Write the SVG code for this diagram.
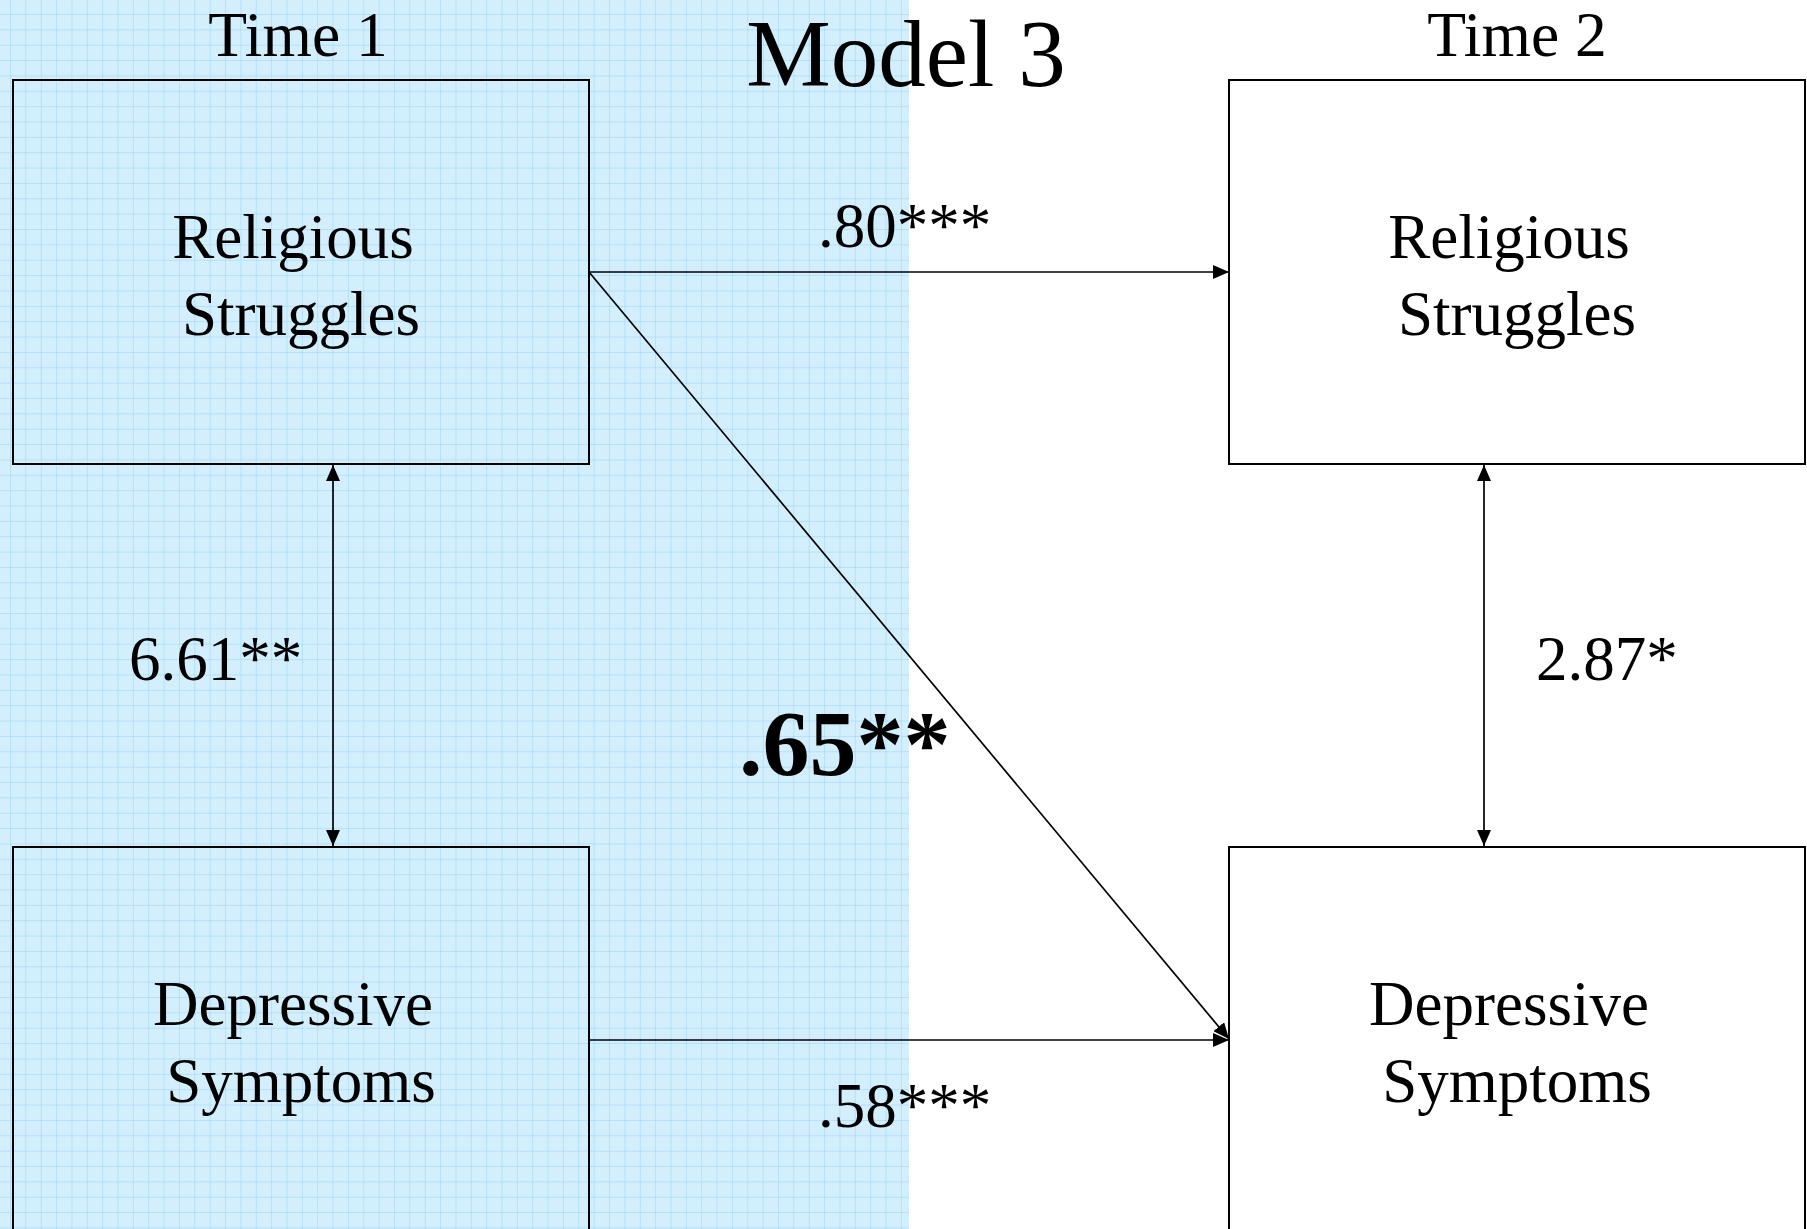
<svg xmlns="http://www.w3.org/2000/svg" width="1807" height="1229" viewBox="0 0 1807 1229">
  <style>
    .t { font-family: "Liberation Serif", "Times New Roman", serif; fill: #000; }
    .lbl { font-size: 63px; text-anchor: middle; }
    .box { fill: none; stroke: #000; stroke-width: 2; }
    .con { stroke: #000; stroke-width: 1.7; fill: none; }
  </style>
  <defs>
    <pattern id="grid" patternUnits="userSpaceOnUse" x="10" y="14" width="15.36" height="15.36">
      <rect x="-0.6" y="0" width="1.2" height="15.36" fill="#a0d7f6"/>
      <rect x="0" y="-0.6" width="15.36" height="1.2" fill="#a0d7f6"/>
    </pattern>
    <marker id="ah" viewBox="0 0 16 14" markerUnits="userSpaceOnUse" markerWidth="16" markerHeight="14" refX="16" refY="7" orient="auto-start-reverse">
      <path d="M0,0 L16,7 L0,14 z" fill="#000"/>
    </marker>
  </defs>

  <rect x="0" y="0" width="1807" height="1229" fill="#ffffff"/>
  <g id="background">
    <rect x="0" y="0" width="909" height="1229" fill="#d3effe"/>
    <rect x="0" y="0" width="909" height="1229" fill="url(#grid)"/>
  </g>

  <g id="titles">
    <text class="t" x="906" y="86" font-size="95" text-anchor="middle">Model 3</text>
    <text class="t" x="298" y="56" font-size="63.5" text-anchor="middle">Time 1</text>
    <text class="t" x="1517" y="56" font-size="63.5" text-anchor="middle">Time 2</text>
  </g>

  <g id="connectors">
    <line class="con" x1="589" y1="272" x2="1229" y2="272" marker-end="url(#ah)"/>
    <line class="con" x1="589" y1="1040" x2="1229" y2="1040" marker-end="url(#ah)"/>
    <line class="con" x1="589" y1="272" x2="1229" y2="1039" marker-end="url(#ah)"/>
    <line class="con" x1="333" y1="465" x2="333" y2="846" marker-start="url(#ah)" marker-end="url(#ah)"/>
    <line class="con" x1="1484" y1="465" x2="1484" y2="846" marker-start="url(#ah)" marker-end="url(#ah)"/>
    <text class="t" x="818" y="247" font-size="63">.80***</text>
    <text class="t" x="818" y="1127" font-size="63">.58***</text>
    <text class="t" x="129" y="680" font-size="63">6.61**</text>
    <text class="t" x="1536" y="680" font-size="63">2.87*</text>
    <text class="t" x="739" y="775" font-size="94" font-weight="bold">.65**</text>
  </g>

  <g id="node-rs1">
    <rect class="box" x="13" y="80" width="576" height="384"/>
    <text class="t lbl" x="293" y="258">Religious</text>
    <text class="t lbl" x="301" y="335">Struggles</text>
  </g>
  <g id="node-ds1">
    <rect class="box" x="13" y="847" width="576" height="400"/>
    <text class="t lbl" x="293" y="1025">Depressive</text>
    <text class="t lbl" x="301" y="1102">Symptoms</text>
  </g>
  <g id="node-rs2">
    <rect class="box" x="1229" y="80" width="576" height="384"/>
    <text class="t lbl" x="1509" y="258">Religious</text>
    <text class="t lbl" x="1517" y="335">Struggles</text>
  </g>
  <g id="node-ds2">
    <rect class="box" x="1229" y="847" width="576" height="400"/>
    <text class="t lbl" x="1509" y="1025">Depressive</text>
    <text class="t lbl" x="1517" y="1102">Symptoms</text>
  </g>
</svg>
